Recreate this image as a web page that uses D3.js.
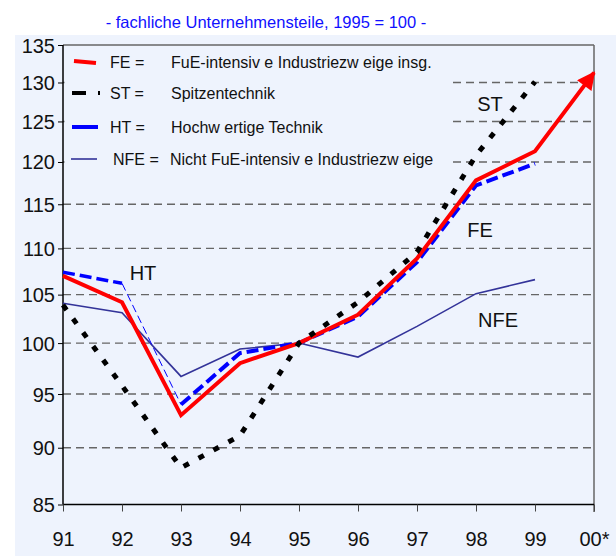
<!DOCTYPE html>
<html>
<head>
<meta charset="utf-8">
<script src="https://cdn.jsdelivr.net/npm/d3@7"></script>
<style>
  body { margin: 0; background: #fff; }
  text { font-family: "Liberation Sans", Arial, sans-serif; }
</style>
</head>
<body>
<div id="chart"></div>
<script>
const years = ['91', '92', '93', '94', '95', '96', '97', '98', '99', '00*'];
const yTicks = [85, 90, 95, 100, 105, 110, 115, 120, 125, 130, 135];
const fe = [107.0, 104.2, 93.0, 98.0, 100, 102.9, 108.9, 117.8, 121.3, 131.3];
const st = [103.9, 95.8, 88.2, 91.1, 100, 104.2, 109.6, 120.8, 130.1];
const ht = [107.4, 106.2, 94.0, 99.0, 100, 102.7, 108.5, 117.2, 119.8];
const nfe = [104.1, 103.1, 96.7, 99.4, 100, 98.6, 101.7, 105.1, 106.6];

const width = 616, height = 556;
const svg = d3.select('#chart').append('svg').attr('width', width).attr('height', height);

// background panel
svg.append('rect').attr('x', 15).attr('y', 35).attr('width', width - 15).attr('height', height - 35)
  .attr('fill', '#eef3fd');

svg.append('text').attr('x', 266).attr('y', 28).attr('text-anchor', 'middle')
  .attr('font-size', 16.5).attr('fill', '#1010ff')
  .text('- fachliche Unternehmensteile, 1995 = 100 -');

const x = d3.scalePoint().domain(years).range([63, 594]);
const y = d3.scaleLog().domain([85, 135]).range([504.5, 45]);

// grid
svg.append('g').selectAll('line').data(yTicks.slice(1, -1)).enter().append('line')
  .attr('x1', 63).attr('x2', 594).attr('y1', d => y(d)).attr('y2', d => y(d))
  .attr('stroke', '#666').attr('stroke-width', 1.4).attr('stroke-dasharray', '8,5');

// frame top/right
svg.append('line').attr('x1', 63).attr('x2', 594).attr('y1', 45).attr('y2', 45)
  .attr('stroke', '#666').attr('stroke-width', 1.5);
svg.append('line').attr('x1', 594).attr('x2', 594).attr('y1', 45).attr('y2', 512)
  .attr('stroke', '#666').attr('stroke-width', 1.5);

// legend background covers the grid
svg.append('rect').attr('x', 64.5).attr('y', 46).attr('width', 388).attr('height', 132)
  .attr('fill', '#eef3fd');

// axes
const yAxis = d3.axisLeft(y).tickValues(yTicks).tickSize(5).tickPadding(3).tickFormat(d3.format('d'));
const gy = svg.append('g').attr('transform', 'translate(63,0)').call(yAxis);
gy.select('.domain').attr('stroke', '#000').attr('stroke-width', 1.5).attr('d', 'M0,45V504.5');
gy.selectAll('text').attr('font-size', 20).attr('fill', '#111').attr('dy', '0.35em');

const xAxis = d3.axisBottom(x).tickSize(7).tickPadding(20);
const gx = svg.append('g').attr('transform', 'translate(0,504.5)').call(xAxis);
gx.select('.domain').attr('stroke', '#000').attr('stroke-width', 1.5).attr('d', 'M63,0H594');
gx.selectAll('.tick line').attr('stroke', '#444');
gx.selectAll('text').attr('font-size', 20).attr('fill', '#111');

const line = d3.line().x(d => x(d[0])).y(d => y(d[1]));
const pairs = arr => arr.map((v, i) => [years[i], v]);

// arrow marker
svg.append('defs').append('marker').attr('id', 'arrow')
  .attr('viewBox', '0 0 10 10').attr('refX', 9).attr('refY', 5)
  .attr('markerUnits', 'userSpaceOnUse').attr('markerWidth', 22).attr('markerHeight', 18)
  .attr('orient', 'auto')
  .append('path').attr('d', 'M0,0L10,5L0,10Z').attr('fill', '#ff0000');

// NFE
svg.append('path').attr('d', line(pairs(nfe))).attr('fill', 'none')
  .attr('stroke', '#333399').attr('stroke-width', 1.6);

// HT (thin piece 92-93 like the original)
const htP = pairs(ht);
svg.append('path').attr('d', line(htP.slice(0, 2))).attr('fill', 'none')
  .attr('stroke', '#0000ff').attr('stroke-width', 3.5).attr('stroke-dasharray', '12,5');
svg.append('path').attr('d', line(htP.slice(1, 3))).attr('fill', 'none')
  .attr('stroke', '#0000ff').attr('stroke-width', 1).attr('stroke-dasharray', '8,4');
svg.append('path').attr('d', line(htP.slice(2))).attr('fill', 'none')
  .attr('stroke', '#0000ff').attr('stroke-width', 4).attr('stroke-dasharray', '12,5');

// FE
svg.append('path').attr('d', line(pairs(fe))).attr('fill', 'none')
  .attr('stroke', '#ff0000').attr('stroke-width', 4).attr('stroke-linejoin', 'miter')
  .attr('marker-end', 'url(#arrow)');

// ST
svg.append('path').attr('d', line(pairs(st))).attr('fill', 'none')
  .attr('stroke', '#000').attr('stroke-width', 5).attr('stroke-dasharray', '6,11');

// line labels
const labels = [['ST', 490, 111], ['FE', 480, 237], ['HT', 143, 280], ['NFE', 498, 327]];
svg.append('g').selectAll('text').data(labels).enter().append('text')
  .attr('x', d => d[1]).attr('y', d => d[2]).attr('text-anchor', 'middle')
  .attr('font-size', 20).attr('fill', '#111').text(d => d[0]);

// legend
const legend = [
  ['FE =', 'FuE-intensiv e Industriezw eige insg.'],
  ['ST =', 'Spitzentechnik'],
  ['HT =', 'Hochw ertige Technik'],
  ['NFE =', 'Nicht FuE-intensiv e Industriezw eige']
];
const ly = [62, 93, 127, 159];
const lg = svg.append('g');
lg.append('line').attr('x1', 74).attr('x2', 96).attr('y1', 61).attr('y2', 63)
  .attr('stroke', '#ff0000').attr('stroke-width', 4);
lg.append('line').attr('x1', 72).attr('x2', 86).attr('y1', 93).attr('y2', 93)
  .attr('stroke', '#000').attr('stroke-width', 4);
lg.append('line').attr('x1', 98).attr('x2', 100).attr('y1', 93).attr('y2', 93)
  .attr('stroke', '#000').attr('stroke-width', 4);
lg.append('line').attr('x1', 72).attr('x2', 98).attr('y1', 127).attr('y2', 127)
  .attr('stroke', '#0000ff').attr('stroke-width', 4);
lg.append('line').attr('x1', 71).attr('x2', 97).attr('y1', 159).attr('y2', 159)
  .attr('stroke', '#333399').attr('stroke-width', 1.6);
legend.forEach((d, i) => {
  lg.append('text').attr('x', i === 3 ? 113 : 110).attr('y', ly[i] + 6).attr('font-size', 16)
    .attr('fill', '#111').text(d[0]);
  lg.append('text').attr('x', i === 3 ? 170 : 171).attr('y', ly[i] + 6).attr('font-size', 16)
    .attr('fill', '#111').text(d[1]);
});
</script>
</body>
</html>
